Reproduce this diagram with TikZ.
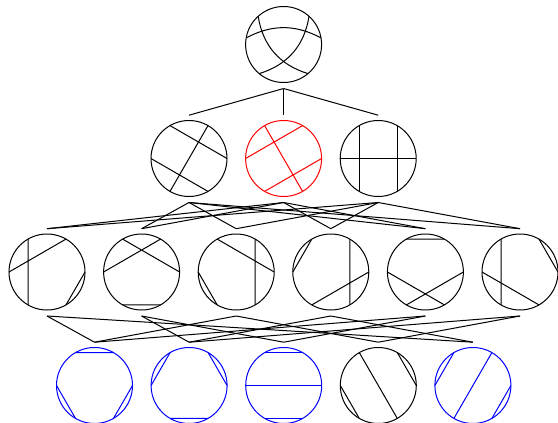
\documentclass[tikz,border=0pt]{standalone}
\usepackage{xcolor}
\usepackage{tikz}
\usetikzlibrary{positioning}

\begin{document}
\begin{tikzpicture}[
	x=0.5pt, y=-0.5pt,
	disk/.style={circle, draw, line width=0.5pt, minimum size=38pt, inner sep=0pt, outer sep=0pt},
	chord/.style={line width=0.5pt},
	link/.style={line width=0.5pt, draw=black}
	]
\useasboundingbox (0,0) rectangle (558,423);

% matchings with three crossings
\node[disk] (k3) at (283.6,44.5) {};

% two crossings
\node[disk]      (k2a) at (189,158.5) {};
\node[disk, red] (k2b) at (283.6,158.5) {};
\node[disk]      (k2c) at (378.2,158.5) {};

% one crossing
\foreach \n/\i in {k1a/0,k1b/1,k1c/2,k1d/3,k1e/4,k1f/5}
  \node[disk] (\n) at (47+94.6*\i,272) {};

% no crossing
\foreach \n/\i/\col in {k0a/0/blue,k0b/1/blue,k0c/2/blue,k0d/3/black,k0e/4/blue}
  \node[disk, \col] (\n) at (94.5+94.6*\i,385.5) {};

% curved chords of the top circle
\draw[chord] (k3.170) to[bend left=28] (k3.10);
\draw[chord] (k3.132) to[bend right=32] (k3.310);
\draw[chord] (k3.48) to[bend left=32] (k3.230);

% straight chords
\foreach \n/\a/\b/\c/\d/\e/\f/\col in {
  k2a/120/0/180/300/60/240/black,
  k2b/120/300/180/60/240/0/red,
  k2c/120/240/60/300/0/180/black,
  k1a/120/240/180/60/0/300/black,
  k1b/120/0/180/60/240/300/black,
  k1c/120/0/60/300/180/240/black,
  k1d/120/180/60/300/240/0/black,
  k1e/60/120/180/300/240/0/black,
  k1f/120/240/60/0/180/300/black,
  k0a/60/120/180/240/0/300/blue,
  k0b/120/180/60/0/240/300/blue,
  k0c/180/0/120/60/240/300/blue,
  k0d/120/300/60/0/180/240/black,
  k0e/60/240/120/180/0/300/blue}
  \draw[chord, \col] (\n.\a) -- (\n.\b) (\n.\c) -- (\n.\d) (\n.\e) -- (\n.\f);

% covering relations
\foreach \a/\b in {k3/k2a,k3/k2b,k3/k2c,
    k2a/k1b,k2a/k1c,k2a/k1e,k2a/k1f,
    k2b/k1a,k2b/k1b,k2b/k1d,k2b/k1e,
    k2c/k1a,k2c/k1c,k2c/k1d,k2c/k1f,
    k1a/k0a,k1a/k0e,k1b/k0b,k1b/k0c,k1c/k0a,k1c/k0d,
    k1d/k0b,k1d/k0e,k1e/k0a,k1e/k0c,k1f/k0b,k1f/k0d}
  \draw[link] ([yshift=-3pt]\a.south) -- ([yshift=2.65pt]\b.north);
\end{tikzpicture}
\end{document}
